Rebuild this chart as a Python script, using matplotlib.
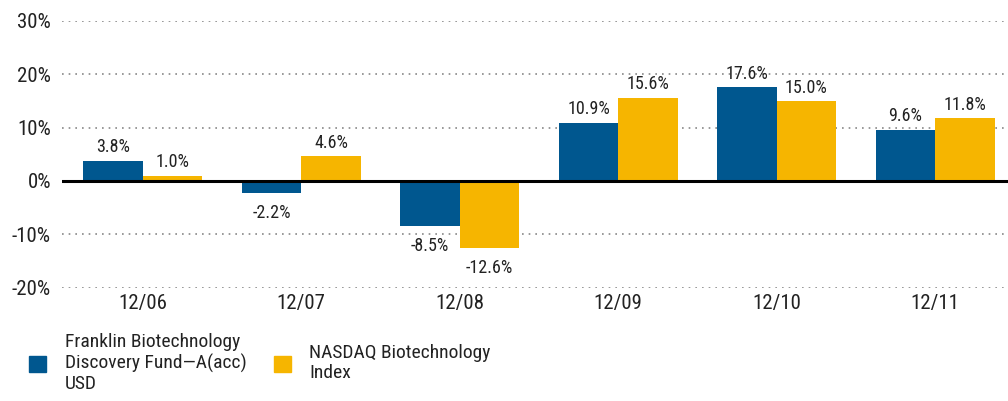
import numpy as np
import matplotlib.pyplot as plt
from matplotlib.patches import Rectangle

# data
years = ['12/06', '12/07', '12/08', '12/09', '12/10', '12/11']
fund = [3.8, -2.2, -8.5, 10.9, 17.6, 9.6]
index = [1.0, 4.6, -12.6, 15.6, 15.0, 11.8]
fund_name = 'Franklin Biotechnology\nDiscovery Fund\u2014A(acc)\nUSD'
index_name = 'NASDAQ Biotechnology\nIndex'

BLUE = '#00578f'
GOLD = '#f6b500'
INK = '#222222'

plt.rcParams['font.family'] = ['Liberation Sans Narrow', 'DejaVu Sans Condensed', 'Roboto Condensed',
                               'Open Sans Condensed', 'DejaVu Sans']

W, H = 1008, 401
fig = plt.figure(figsize=(W / 100, H / 100), dpi=100)
ax = fig.add_axes([0.0615, 0.283, 0.9385, 0.665])

x = np.arange(len(years))
w = 0.375
ax.bar(x - w / 2, fund, w, color=BLUE, zorder=2)
ax.bar(x + w / 2, index, w, color=GOLD, zorder=2)

for xs, vals in ((x - w / 2, fund), (x + w / 2, index)):
    for xi, v in zip(xs, vals):
        if v >= 0:
            ax.text(xi, v + 0.8, f'{v:.1f}%', ha='center', va='bottom', fontsize=13, color=INK)
        else:
            ax.text(xi, v - 2.1, f'{v:.1f}%', ha='center', va='top', fontsize=13, color=INK)

ax.set_ylim(-20, 30)
ax.set_xlim(-0.51, 5.46)
ax.set_yticks([-20, -10, 0, 10, 20, 30])
ax.set_yticklabels([f'{t}%' for t in [-20, -10, 0, 10, 20, 30]])
ax.set_xticks(x)
ax.set_xticklabels(years)
ax.tick_params(axis='both', length=0, labelsize=15, colors=INK)
ax.tick_params(axis='y', pad=8)
ax.tick_params(axis='x', pad=5)

for t in [-20, -10, 10, 20, 30]:
    ax.axhline(t, color='#888888', lw=1.2, ls=(0, (1, 3)), zorder=1)
ax.axhline(0, color='black', lw=2.2, zorder=3)

for s in ax.spines.values():
    s.set_visible(False)

# legend, laid out by hand in pixel positions
for (sx, tx, col, label) in ((29, 65, BLUE, fund_name), (274, 309, GOLD, index_name)):
    fig.patches.append(Rectangle((sx / W, 1 - 372 / H), 17 / W, 16 / H, transform=fig.transFigure,
                                 color=col, figure=fig))
    fig.text(tx / W, 1 - 363 / H, label, ha='left', va='center', fontsize=14, color=INK,
             linespacing=1.2)

fig.savefig('out.png', dpi=100)
